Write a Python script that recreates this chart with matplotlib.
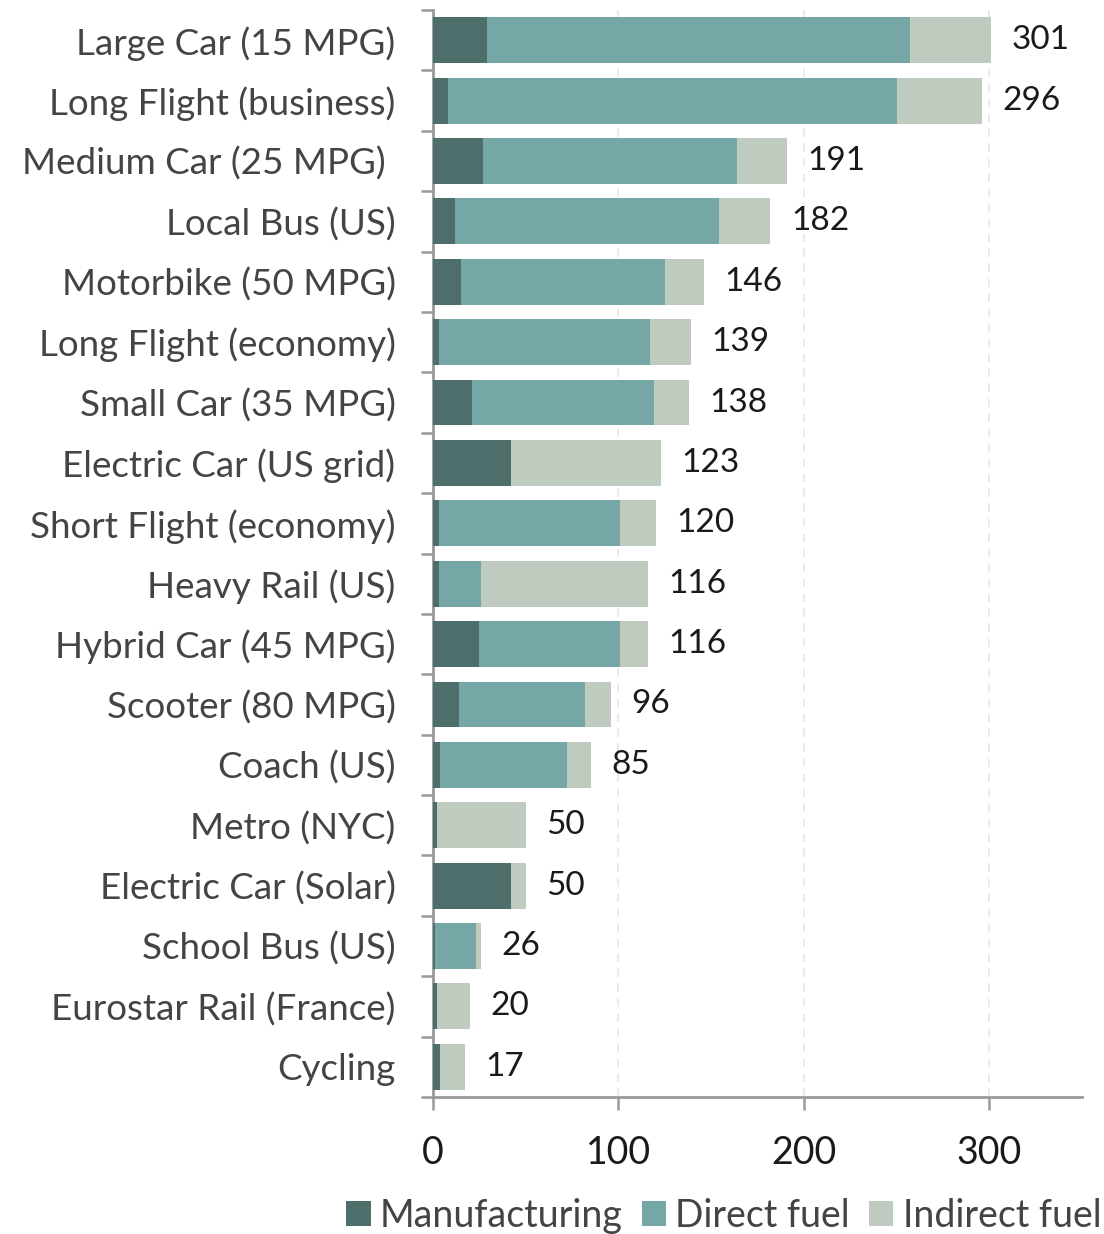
import matplotlib
matplotlib.use("Agg")
import matplotlib.pyplot as plt
import numpy as np

plt.rcParams['font.family'] = ['Lato', 'DejaVu Sans']

# emissions per mode of transport, split by source
modes = ['Large Car (15 MPG)', 'Long Flight (business)', 'Medium Car (25 MPG) ',
         'Local Bus (US)', 'Motorbike (50 MPG)', 'Long Flight (economy)',
         'Small Car (35 MPG)', 'Electric Car (US grid)', 'Short Flight (economy)',
         'Heavy Rail (US)', 'Hybrid Car (45 MPG)', 'Scooter (80 MPG)',
         'Coach (US)', 'Metro (NYC)', 'Electric Car (Solar)', 'School Bus (US)',
         'Eurostar Rail (France)', 'Cycling']
manufacturing = [29, 8, 27, 12, 15, 3, 21, 42, 3, 3, 25, 14, 4, 2, 42, 1, 2, 4]
direct_fuel = [228, 242, 137, 142, 110, 114, 98, 0, 98, 23, 76, 68, 68, 0, 0, 22, 0, 0]
indirect_fuel = [44, 46, 27, 28, 21, 22, 19, 81, 19, 90, 15, 14, 13, 48, 8, 3, 18, 13]
totals = [301, 296, 191, 182, 146, 139, 138, 123, 120, 116, 116, 96, 85, 50, 50, 26, 20, 17]
xticks = [0, 100, 200, 300]

c_man = '#4e6e6b'
c_dir = '#76a7a7'
c_ind = '#bfcbbf'

fig = plt.figure(figsize=(11.04, 12.34), dpi=100)
ax = fig.add_axes([433 / 1104, 1 - 1097 / 1234, (1082 - 433) / 1104, (1097 - 10) / 1234])

y = np.arange(len(modes))
man = np.array(manufacturing)
dirf = np.array(direct_fuel)
ind = np.array(indirect_fuel)
h = 0.76
ax.barh(y, man, height=h, color=c_man, label='Manufacturing', zorder=3)
ax.barh(y, dirf, left=man, height=h, color=c_dir, label='Direct fuel', zorder=3)
ax.barh(y, ind, left=man + dirf, height=h, color=c_ind, label='Indirect fuel', zorder=3)

for yi, t in zip(y, totals):
    ax.text(t + 11, yi, str(t), va='center', ha='left', fontsize=24, color='#1a1a1a')

ax.set_ylim(len(modes) - 0.5, -0.5)
ax.set_xlim(0, 350)

ax.set_yticks(y)
ax.set_yticklabels(modes, fontsize=26.5, color='#444444')
ax.tick_params(axis='y', which='major', length=0, pad=27)
ax.set_yticks(np.arange(-0.5, len(modes) + 0.5, 1.0), minor=True)
ax.tick_params(axis='y', which='minor', length=9, width=1.8, color='#999999', direction='out')

ax.set_xticks(xticks)
ax.set_xticklabels([str(v) for v in xticks], fontsize=27, color='#1a1a1a')
ax.tick_params(axis='x', length=9, width=1.8, color='#999999', pad=18)

ax.grid(axis='x', linestyle=(0, (5, 4)), color='#e6e6e6', linewidth=1.2, zorder=0)

for side in ['top', 'right']:
    ax.spines[side].set_visible(False)
for side in ['left', 'bottom']:
    ax.spines[side].set_color('#999999')
    ax.spines[side].set_linewidth(2)

leg = fig.legend(loc='lower right', bbox_to_anchor=(1.028, -0.027), ncol=3, frameon=False,
                 fontsize=27, handlelength=0.65, handleheight=0.65, handletextpad=0.25,
                 columnspacing=0.5)
for t in leg.get_texts():
    t.set_color('#444444')

fig.savefig('out.png', dpi=100)
